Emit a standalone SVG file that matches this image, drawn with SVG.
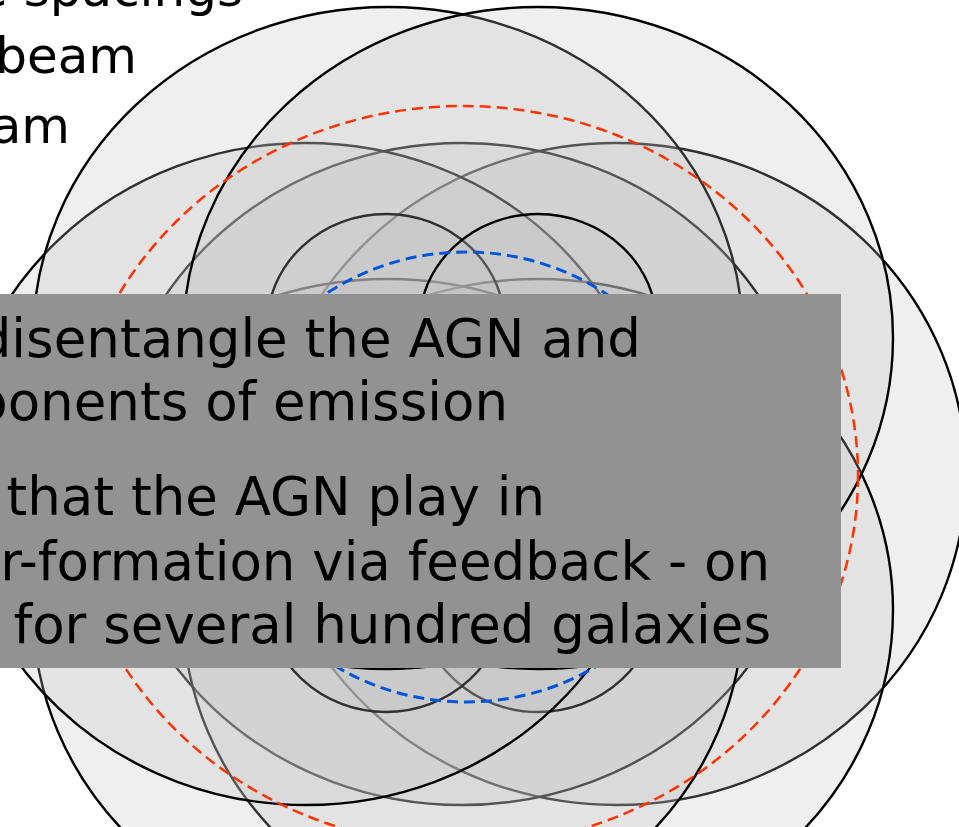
<svg xmlns="http://www.w3.org/2000/svg" width="959" height="827" viewBox="0 0 959 827">
  <style>
    .beam { fill: #bebebe; fill-opacity: 0.25; stroke: #000; stroke-width: 2.4; }
    .ring-red { fill: none; stroke: #ff3300; stroke-width: 2.5; stroke-dasharray: 11 6; }
    .ring-blue { fill: none; stroke: #0055dd; stroke-width: 3; stroke-dasharray: 11 6; }
    .label { font-family: "DejaVu Sans", Verdana, sans-serif; font-size: 53px; fill: #000; }
    .note { font-family: "DejaVu Sans", Verdana, sans-serif; font-size: 50px; fill: #000; }
  </style>

  <!-- hexagonal pointing pattern: large beam then small beam per pointing, in drawing order -->
  <g id="pointings">
    <g id="pointing-right">
      <ellipse class="beam" cx="616" cy="474" rx="350" ry="331"/>
    </g>
    <g id="pointing-centre">
      <ellipse class="beam" cx="462" cy="474" rx="352" ry="331"/>
    </g>
    <g id="pointing-bottom-right">
      <ellipse class="beam" cx="538" cy="610" rx="355" ry="331"/>
      <ellipse class="beam" cx="538" cy="600" rx="119" ry="112"/>
    </g>
    <g id="pointing-bottom-left">
      <ellipse class="beam" cx="388" cy="610" rx="355" ry="331"/>
      <ellipse class="beam" cx="386" cy="600" rx="119" ry="112"/>
    </g>
    <g id="pointing-left">
      <ellipse class="beam" cx="306" cy="474" rx="350" ry="331"/>
    </g>
    <g id="pointing-top-left">
      <ellipse class="beam" cx="388" cy="338" rx="355" ry="331"/>
      <ellipse class="beam" cx="386" cy="326" rx="119" ry="112"/>
    </g>
    <g id="pointing-top-right">
      <ellipse class="beam" cx="538" cy="338" rx="355" ry="331"/>
      <ellipse class="beam" cx="538" cy="326" rx="119" ry="112"/>
    </g>
  </g>

  <!-- coverage outlines -->
  <g id="coverage">
    <ellipse id="outer-coverage" class="ring-red" cx="463" cy="476" rx="395" ry="370"/>
    <ellipse id="inner-coverage" class="ring-blue" cx="466" cy="477" rx="241" ry="225"/>
  </g>

  <!-- notes at top left -->
  <g id="notes">
    <text class="note" x="243" y="6" text-anchor="end">e spacings</text>
    <text class="note" x="137" y="73" text-anchor="end">beam</text>
    <text class="note" x="70" y="143" text-anchor="end">am</text>
  </g>

  <!-- text panel -->
  <g id="panel">
    <rect x="0" y="294" width="841" height="374" fill="#929292"/>
    <text class="label" x="641" y="357" text-anchor="end">disentangle the AGN and</text>
    <text class="label" x="508" y="420" text-anchor="end">ponents of emission</text>
    <text class="label" x="545" y="515" text-anchor="end">that the AGN play in</text>
    <text class="label" x="770" y="580" text-anchor="end">r-formation via feedback - on</text>
    <text class="label" x="771" y="643" text-anchor="end">for several hundred galaxies</text>
  </g>
</svg>
